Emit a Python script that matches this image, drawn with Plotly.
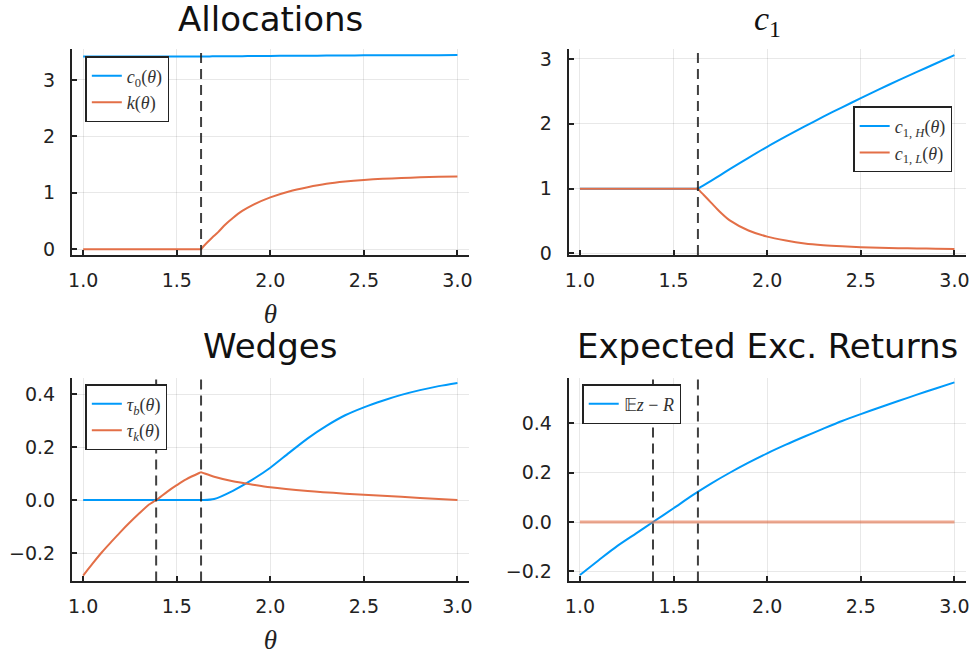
import plotly.graph_objects as go

# ---- data -----------------------------------------------------------------
theta_kink = 1.63   # threshold where the constraint starts to bind
theta_zero = 1.39   # threshold where the excess return crosses zero

# Allocations
theta_alloc = [1.0, 1.2, 1.4, 1.62, 1.63, 1.64, 1.66, 1.69, 1.72, 1.76, 1.8, 1.85,
               1.9, 2.0, 2.1, 2.2, 2.3, 2.4, 2.5, 2.6, 2.7, 2.8, 2.9, 3.0]
c0_vals = [3.415, 3.415, 3.415, 3.415, 3.415, 3.415, 3.416, 3.417, 3.418, 3.419, 3.42,
           3.421, 3.422, 3.425, 3.427, 3.429, 3.431, 3.433, 3.435, 3.436, 3.437, 3.438,
           3.439, 3.44]
k_vals = [0.0, 0.0, 0.0, 0.0, 0.0, 0.04, 0.11, 0.21, 0.30, 0.44, 0.555, 0.68,
          0.775, 0.92, 1.025, 1.10, 1.16, 1.2, 1.228, 1.248, 1.263, 1.274, 1.283, 1.29]

# Period-1 consumption
theta_c1 = [1.0, 1.2, 1.4, 1.62, 1.63, 1.64, 1.66, 1.7, 1.75, 1.8, 1.9, 2.0, 2.1,
            2.2, 2.3, 2.4, 2.5, 2.6, 2.7, 2.8, 2.9, 3.0]
c1H_vals = [1.0, 1.0, 1.0, 1.0, 1.0, 1.017, 1.05, 1.12, 1.21, 1.30, 1.475, 1.645,
            1.805, 1.96, 2.11, 2.255, 2.395, 2.535, 2.67, 2.80, 2.93, 3.06]
c1L_vals = [1.0, 1.0, 1.0, 1.0, 1.0, 0.965, 0.905, 0.785, 0.635, 0.51, 0.355, 0.26,
            0.20, 0.155, 0.128, 0.11, 0.097, 0.088, 0.082, 0.077, 0.073, 0.07]

# Wedges
theta_tau_b = [1.0, 1.3, 1.62, 1.63, 1.64, 1.7, 1.8, 1.9, 2.0, 2.1, 2.2, 2.3, 2.4,
               2.5, 2.6, 2.7, 2.8, 2.9, 3.0]
tau_b_vals = [0.0, 0.0, 0.0, 0.0, 0.0, 0.004, 0.035, 0.075, 0.122, 0.178, 0.233, 0.28,
              0.32, 0.35, 0.375, 0.397, 0.415, 0.43, 0.442]
theta_tau_k = [1.0, 1.05, 1.1, 1.15, 1.2, 1.25, 1.3, 1.35, 1.39, 1.45, 1.5, 1.55,
               1.62, 1.63, 1.64, 1.7, 1.8, 1.9, 2.0, 2.2, 2.4, 2.6, 2.8, 3.0]
tau_k_vals = [-0.285, -0.24, -0.197, -0.158, -0.12, -0.084, -0.05, -0.018, 0.0, 0.032,
              0.056, 0.078, 0.102, 0.105, 0.1025, 0.088, 0.071, 0.059, 0.048, 0.034,
              0.024, 0.016, 0.008, 0.0]

# Expected excess returns
theta_ret = [1.0, 1.1, 1.2, 1.3, 1.39, 1.5, 1.6, 1.7, 1.8, 1.9, 2.0, 2.1, 2.2,
             2.3, 2.4, 2.5, 2.6, 2.7, 2.8, 2.9, 3.0]
exc_ret_vals = [-0.215, -0.155, -0.097, -0.046, 0.0, 0.056, 0.108, 0.156, 0.2, 0.241,
                0.279, 0.314, 0.347, 0.379, 0.41, 0.438, 0.465, 0.491, 0.517, 0.542,
                0.567]
zero_vals = [0.0] * len(theta_ret)

x_ticks = [1.0, 1.5, 2.0, 2.5, 3.0]
y_ticks_top = [0, 1, 2, 3]
y_ticks_bottom = [-0.2, 0.0, 0.2, 0.4]

# ---- style ----------------------------------------------------------------
BLUE = "#009AFA"
ORANGE = "#E36F47"
SANS = "DejaVu Sans"
SERIF = "Liberation Serif"
W, H = 977, 661

fig = go.Figure()


def line(x, y, name, color, xa, ya, legend, show=True, width=2, opacity=1.0):
    fig.add_trace(go.Scatter(
        x=x, y=y, mode="lines", name=name, xaxis=xa, yaxis=ya,
        line=dict(color=color, width=width, shape="spline", smoothing=0.8),
        opacity=opacity, legend=legend, showlegend=show, hoverinfo="skip"))


line(theta_alloc, c0_vals, "<i>c</i><sub>0</sub>(<i>θ</i>)", BLUE, "x", "y", "legend")
line(theta_alloc, k_vals, "<i>k</i>(<i>θ</i>)", ORANGE, "x", "y", "legend")

line(theta_c1, c1H_vals, "<i>c</i><sub>1, <i>H</i></sub>(<i>θ</i>)", BLUE, "x2", "y2", "legend2")
line(theta_c1, c1L_vals, "<i>c</i><sub>1, <i>L</i></sub>(<i>θ</i>)", ORANGE, "x2", "y2", "legend2")

line(theta_tau_b, tau_b_vals, "<i>τ</i><sub><i>b</i></sub>(<i>θ</i>)", BLUE, "x3", "y3", "legend3")
line(theta_tau_k, tau_k_vals, "<i>τ</i><sub><i>k</i></sub>(<i>θ</i>)", ORANGE, "x3", "y3", "legend3")

line(theta_ret, exc_ret_vals, "𝔼<i>z</i> − <i>R</i>", BLUE, "x4", "y4", "legend4")
line(theta_ret, zero_vals, "", ORANGE, "x4", "y4", "legend4", show=False,
     width=3, opacity=0.6)


# vertical dashed markers at the thresholds
def vdash(xval, xref, yref):
    fig.add_shape(type="line", x0=xval, x1=xval, y0=0, y1=1,
                  xref=xref, yref=yref + " domain",
                  line=dict(color="rgba(30,30,30,0.85)", width=2, dash="10px,6px"))


vdash(theta_kink, "x", "y")
vdash(theta_kink, "x2", "y2")
vdash(theta_zero, "x3", "y3")
vdash(theta_kink, "x3", "y3")
vdash(theta_zero, "x4", "y4")
vdash(theta_kink, "x4", "y4")


# ---- axes -----------------------------------------------------------------
def px_x(a, b):
    return [a / W, b / W]


def px_y(top, bottom):
    return [1 - bottom / H, 1 - top / H]


dom_xl = px_x(68.5, 468.5)
dom_xr = px_x(569.4, 969.6)
dom_yt = px_y(49, 258)
dom_yb = px_y(382.7, 589.3)

tickfont = dict(family=SANS, size=19, color="#222")
axis_common = dict(
    showline=True, linecolor="#222", linewidth=2,
    ticks="inside", ticklen=5, tickwidth=1.5, tickcolor="#222",
    showgrid=True, gridcolor="rgba(0,0,0,0.09)", gridwidth=1,
    zeroline=False, tickfont=tickfont, ticklabelstandoff=11,
)
theta_title = dict(text="<i>θ</i>", font=dict(family=SERIF, size=27, color="#222"),
                   standoff=14)


def xaxis(domain, anchor, title=None):
    d = dict(axis_common, domain=domain, anchor=anchor, range=[0.94, 3.06],
             tickvals=x_ticks, tickformat=".1f")
    d["ticklabelstandoff"] = 7
    if title:
        d["title"] = title
    return d


def yaxis(domain, anchor, rng, ticks, fmt):
    return dict(axis_common, domain=domain, anchor=anchor, range=rng,
                tickvals=ticks, tickformat=fmt)


legend_common = dict(
    xanchor="left", yanchor="top", bgcolor="white", bordercolor="#222",
    borderwidth=1.5, font=dict(family=SERIF, size=18, color="#333"),
    itemwidth=30, tracegroupgap=0,
)

fig.update_layout(
    width=W, height=H,
    margin=dict(l=0, r=0, t=0, b=0),
    paper_bgcolor="white", plot_bgcolor="white",
    xaxis=xaxis(dom_xl, "y", theta_title),
    yaxis=yaxis(dom_yt, "x", [-0.103, 3.543], y_ticks_top, "d"),
    xaxis2=xaxis(dom_xr, "y2"),
    yaxis2=yaxis(dom_yt, "x2", [-0.025, 3.15], y_ticks_top, "d"),
    xaxis3=xaxis(dom_xl, "y3", theta_title),
    yaxis3=yaxis(dom_yb, "x3", [-0.307, 0.461], y_ticks_bottom, ".1f"),
    xaxis4=xaxis(dom_xr, "y4"),
    yaxis4=yaxis(dom_yb, "x4", [-0.241, 0.585], y_ticks_bottom, ".1f"),
    legend=dict(legend_common, x=82 / W, y=1 - 56 / H),
    legend2=dict(legend_common, x=956 / W, y=1 - 107 / H, xanchor="right"),
    legend3=dict(legend_common, x=82 / W, y=1 - 389 / H),
    legend4=dict(legend_common, x=583 / W, y=1 - 389 / H),
)


# ---- panel titles ---------------------------------------------------------
def title(text, xc, yc, family=SANS):
    fig.add_annotation(text=text, x=xc / W, y=1 - yc / H, xref="paper", yref="paper",
                       xanchor="center", yanchor="middle", showarrow=False,
                       font=dict(family=family, size=34, color="#111"))


title("Allocations", 268.5, 18)
title("<i>c</i><sub>1</sub>", 769.5, 20, family=SERIF)
title("Wedges", 268.5, 350)
title("Expected Exc. Returns", 769.5, 350)

fig.write_html("out.html")
